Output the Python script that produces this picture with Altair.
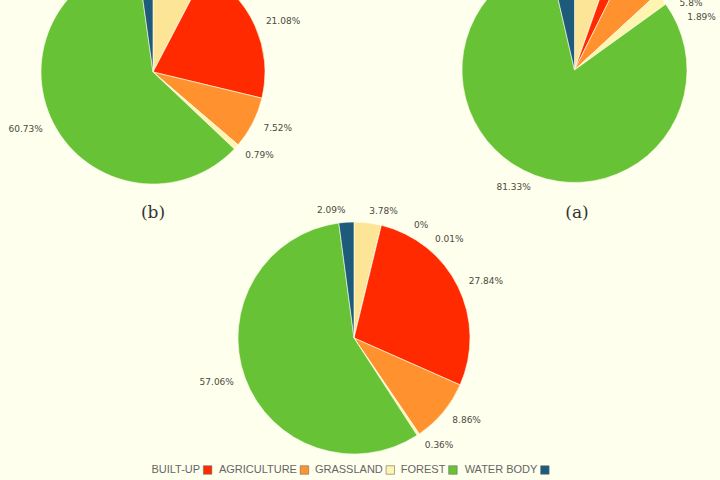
import math
import numpy as np
import pandas as pd
import altair as alt

# ---- data (slices listed in the order they appear, clockwise from 12 o'clock) ----
categories = ["BARREN LAND", "WETLAND", "OTHERS", "BUILT-UP", "AGRICULTURE",
              "GRASSLAND", "FOREST", "WATER BODY"]
colors = ["#FCE597", "#F6D86A", "#E8C24A", "#FF2A00", "#FF922E",
          "#FFF4B0", "#67C236", "#1E5A7A"]
values_b = [7.66, 0.0, 0.01, 21.08, 7.52, 0.79, 60.73, 2.21]
values_a = [5.40, 0.0, 0.01, 1.95, 5.80, 1.89, 81.33, 3.62]
values_c = [3.78, 0.0, 0.01, 27.84, 8.86, 0.36, 57.06, 2.09]
legend_items = ["BUILT-UP", "AGRICULTURE", "GRASSLAND", "FOREST", "WATER BODY"]
panel_titles = ["(b)", "(a)"]

BG = "#FFFFEE"
theta_scale = alt.Scale(domain=[0, 100])
color_scale = alt.Scale(domain=categories, range=colors)


def label_positions(values, R, gap=14.0):
    vals = np.array(values, dtype=float)
    total = vals.sum()
    mid = (np.cumsum(vals) - vals / 2) / total * 360.0
    ys = -R * np.cos(np.radians(mid))
    side = np.where(mid < 180, "right", "left")
    out = mid.copy()
    for s in ["right", "left"]:
        idx = [i for i in range(len(vals)) if side[i] == s]
        idx.sort(key=lambda i: ys[i])
        prev = None
        for i in idx:
            y = ys[i] if prev is None else max(ys[i], prev + gap)
            y = min(y, R)
            prev = y
            a = math.degrees(math.acos(max(-1.0, min(1.0, -y / R))))
            out[i] = a if s == "right" else 360.0 - a
    return out / 360.0 * 100.0, side


def pie_frame(values, R):
    df = pd.DataFrame({"category": categories, "value": values,
                       "idx": list(range(len(values)))})
    df["label"] = [f"{v:g}%" for v in values]
    pos, side = label_positions(values, R)
    df["label_pos"] = pos
    df["side"] = side
    return df


def pie_layers(values, cx, cy, r):
    R = r + 12
    df = pie_frame(values, R)
    base = alt.Chart(df)
    arc = base.mark_arc(outerRadius=r, stroke=BG, strokeWidth=0.6).encode(
        theta=alt.Theta("value:Q", stack=True, scale=theta_scale),
        color=alt.Color("category:N", scale=color_scale, legend=None),
        order=alt.Order("idx:Q"),
        x=alt.value(cx), y=alt.value(cy),
    )
    layers = [arc]
    for s, align in [("right", "left"), ("left", "right")]:
        t = base.transform_filter(alt.datum.side == s).mark_text(
            radius=R, align=align, baseline="middle", fontSize=9,
            font="DejaVu Sans", color="#4a4a40",
        ).encode(
            theta=alt.Theta("label_pos:Q", stack=False, scale=theta_scale),
            text="label:N",
            x=alt.value(cx), y=alt.value(cy),
        )
        layers.append(t)
    return layers


# ---- manual legend (label followed by its swatch, as pictured) ----
legend_font = 11
em = {"W": .944, "A": .667, "T": .611, "E": .667, "R": .722, " ": .278, "B": .667,
      "O": .778, "D": .722, "Y": .667, "F": .611, "S": .667, "G": .778, "L": .556,
      "N": .722, "C": .722, "I": .278, "U": .722, "P": .667, "-": .333}


def text_w(s):
    return sum(em.get(c, 0.6) for c in s) * legend_font


rows = []
xcur = 150.0
for name in legend_items:
    w = text_w(name)
    rows.append({"category": name, "text_end": xcur + w, "sq": xcur + w + 3 + 4.5})
    xcur += w + 3 + 9 + 6
leg_df = pd.DataFrame(rows)

leg_sq = alt.Chart(leg_df).mark_square(size=72, opacity=1, stroke="#6b6b6b",
                                       strokeWidth=0.6).encode(
    x=alt.X("sq:Q", scale=None), y=alt.value(470),
    color=alt.Color("category:N", scale=color_scale, legend=None),
)
leg_tx = alt.Chart(leg_df).mark_text(align="right", baseline="middle",
                                     fontSize=legend_font, font="Liberation Sans",
                                     color="#666666").encode(
    x=alt.X("text_end:Q", scale=None), y=alt.value(470), text="category:N",
)

title_df = pd.DataFrame({"t": panel_titles})
title_b = alt.Chart(title_df).transform_filter(alt.datum.t == panel_titles[0]).mark_text(
    fontSize=17, font="DejaVu Serif", color="#333333", baseline="middle").encode(
    text="t:N", x=alt.value(153), y=alt.value(213))
title_a = alt.Chart(title_df).transform_filter(alt.datum.t == panel_titles[1]).mark_text(
    fontSize=17, font="DejaVu Serif", color="#333333", baseline="middle").encode(
    text="t:N", x=alt.value(577), y=alt.value(213))

layers = (pie_layers(values_b, 153, 72, 112)
          + pie_layers(values_a, 574.5, 70, 112.5)
          + pie_layers(values_c, 354, 338, 116)
          + [title_b, title_a, leg_sq, leg_tx])

chart = alt.layer(*layers).properties(
    width=720, height=480,
    autosize=alt.AutoSizeParams(type="none"),
    padding=0,
).configure(background=BG).configure_view(stroke=None)

chart.save("out.html", embed_options={"renderer": "svg", "actions": False})
